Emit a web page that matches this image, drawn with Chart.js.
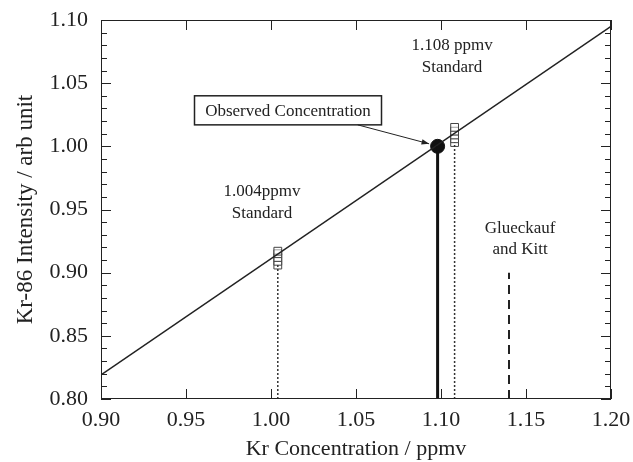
<!DOCTYPE html>
<html>
<head>
<meta charset="utf-8">
<script src="https://cdn.jsdelivr.net/npm/chart.js@4"></script>
<style>
  html, body { margin: 0; padding: 0; background: #fff; }
  #wrap { width: 633px; height: 462px; }
</style>
</head>
<body>
<div id="wrap"><canvas id="chartCanvas" width="633" height="462"></canvas></div>
<script>
// valori
const xTicks = [0.90, 0.95, 1.00, 1.05, 1.10, 1.15, 1.20];
const yTicks = [0.80, 0.85, 0.90, 0.95, 1.00, 1.05, 1.10];

const fitX = [0.90, 1.20];
const fitY = [0.819, 1.095];

const std1X = 1.004;
const std1Y = [0.906, 0.909, 0.912, 0.915, 0.917];
const std2X = 1.108;
const std2Y = [1.003, 1.006, 1.009, 1.012, 1.015];

const obsX = 1.098;
const obsY = 1.000;

const gkX = 1.14;
const gkTop = 0.90;

const serif = '"Liberation Serif", "DejaVu Serif", serif';

const line = (xs, ys) => xs.map((x, i) => ({ x: x, y: ys[i] }));

// Tacche interne, cornice e testi
const decor = {
    id: 'decor',
    afterDraw(chart) {
        const ctx = chart.ctx;
        const xs = chart.scales.x, ys = chart.scales.y;
        const a = chart.chartArea;
        ctx.save();
        ctx.strokeStyle = '#222';
        ctx.lineWidth = 1;
        ctx.strokeRect(a.left + 0.5, a.top + 0.5, a.right - a.left - 1, a.bottom - a.top - 1);
        ctx.beginPath();
        xTicks.forEach(v => {
            const px = Math.round(xs.getPixelForValue(v)) + 0.5;
            ctx.moveTo(px, a.bottom); ctx.lineTo(px, a.bottom - 10);
            ctx.moveTo(px, a.top); ctx.lineTo(px, a.top + 10);
        });
        for (let i = 0; i <= 30; i++) {
            const v = 0.80 + i * 0.01;
            const py = Math.round(ys.getPixelForValue(v)) + 0.5;
            const len = (i % 5 === 0) ? 10 : 6;
            ctx.moveTo(a.left, py); ctx.lineTo(a.left + len, py);
            ctx.moveTo(a.right, py); ctx.lineTo(a.right - len, py);
        }
        ctx.stroke();

        // testi
        ctx.fillStyle = '#222';
        ctx.font = '17px ' + serif;
        ctx.textAlign = 'center';
        ctx.textBaseline = 'middle';
        const t = (s, x, y) => ctx.fillText(s, xs.getPixelForValue(x), ys.getPixelForValue(y));
        t('1.108 ppmv', 1.1065, 1.080);
        t('Standard', 1.1065, 1.062);
        t('1.004ppmv', 0.9947, 0.964);
        t('Standard', 0.9947, 0.947);
        t('Glueckauf', 1.1465, 0.935);
        t('and Kitt', 1.1465, 0.918);

        // riquadro "Observed Concentration"
        const bx1 = xs.getPixelForValue(0.955), bx2 = xs.getPixelForValue(1.065);
        const by1 = ys.getPixelForValue(1.040), by2 = ys.getPixelForValue(1.017);
        ctx.lineWidth = 1.5;
        ctx.strokeRect(bx1, by1, bx2 - bx1, by2 - by1);
        ctx.fillText('Observed Concentration', (bx1 + bx2) / 2, (by1 + by2) / 2 + 1);

        // freccia verso il punto osservato
        const ax1 = xs.getPixelForValue(1.051), ay1 = by2;
        const ax2 = xs.getPixelForValue(1.093), ay2 = ys.getPixelForValue(1.002);
        ctx.lineWidth = 1;
        ctx.beginPath();
        ctx.moveTo(ax1, ay1); ctx.lineTo(ax2, ay2);
        ctx.stroke();
        const ang = Math.atan2(ay2 - ay1, ax2 - ax1);
        ctx.beginPath();
        ctx.moveTo(ax2, ay2);
        ctx.lineTo(ax2 - 8 * Math.cos(ang - 0.35), ay2 - 8 * Math.sin(ang - 0.35));
        ctx.lineTo(ax2 - 8 * Math.cos(ang + 0.35), ay2 - 8 * Math.sin(ang + 0.35));
        ctx.closePath();
        ctx.fill();
        ctx.restore();
    }
};

const squares = (x, ys) => ({
    data: ys.map(y => ({ x: x, y: y })),
    showLine: false,
    pointStyle: 'rect',
    pointRadius: 5.5,
    pointBackgroundColor: 'rgba(255,255,255,0.5)',
    pointBorderColor: '#444',
    pointBorderWidth: 1
});

new Chart(document.getElementById('chartCanvas'), {
    type: 'scatter',
    data: {
        datasets: [
            { data: line([std1X, std1X], [0.80, std1Y[0]]), showLine: true, borderColor: '#333', borderWidth: 1.5, borderDash: [2, 2], pointRadius: 0 },
            { data: line([std2X, std2X], [0.80, std2Y[0]]), showLine: true, borderColor: '#333', borderWidth: 1.5, borderDash: [2, 2], pointRadius: 0 },
            { data: line([gkX, gkX], [0.80, gkTop]), showLine: true, borderColor: '#222', borderWidth: 2, borderDash: [9, 6], pointRadius: 0 },
            { data: line([obsX, obsX], [0.80, obsY]), showLine: true, borderColor: '#111', borderWidth: 3, pointRadius: 0 },
            { data: line(fitX, fitY), showLine: true, borderColor: '#222', borderWidth: 1.5, pointRadius: 0 },
            squares(std1X, std1Y),
            squares(std2X, std2Y),
            { data: [{ x: obsX, y: obsY }], pointRadius: 7, pointBackgroundColor: '#111', pointBorderColor: '#111' }
        ]
    },
    options: {
        responsive: false,
        animation: false,
        layout: { padding: { top: 20, right: 22, left: 0, bottom: 0 } },
        plugins: { legend: { display: false }, tooltip: { enabled: false } },
        scales: {
            x: {
                type: 'linear', min: 0.90, max: 1.20,
                afterFit: s => { s.height = 63; },
                afterBuildTicks: s => { s.ticks = xTicks.map(v => ({ value: v })); },
                grid: { display: false },
                border: { display: false },
                ticks: { color: '#222', font: { family: serif, size: 22 }, padding: 0, maxRotation: 0, callback: v => v.toFixed(2) },
                title: { display: true, text: 'Kr Concentration / ppmv', color: '#222', font: { family: serif, size: 22 }, padding: { top: 2, bottom: 0 } }
            },
            y: {
                type: 'linear', min: 0.80, max: 1.10,
                afterFit: s => { s.width = 101; },
                afterBuildTicks: s => { s.ticks = yTicks.map(v => ({ value: v })); },
                grid: { display: false },
                border: { display: false },
                ticks: { color: '#222', font: { family: serif, size: 22 }, padding: 5, callback: v => v.toFixed(2) },
                title: { display: true, text: 'Kr-86 Intensity / arb unit', color: '#222', font: { family: serif, size: 23 }, padding: { top: 12, bottom: 0 } }
            }
        }
    },
    plugins: [decor]
});
</script>
</body>
</html>
